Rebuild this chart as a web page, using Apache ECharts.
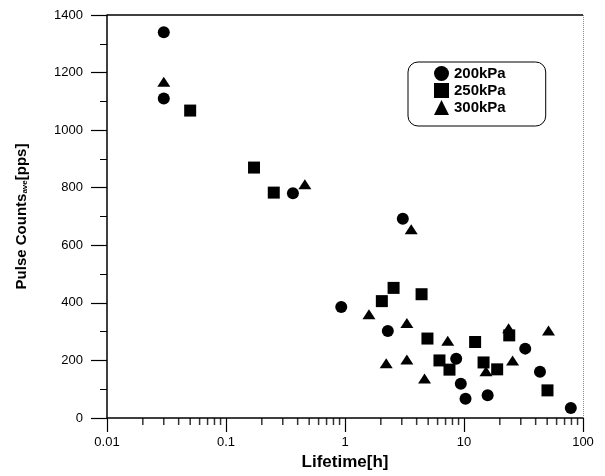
<!DOCTYPE html>
<html>
<head>
<meta charset="utf-8">
<script src="https://cdn.jsdelivr.net/npm/echarts@6/dist/echarts.min.js"></script>
<style>
html,body{margin:0;padding:0;background:#fff;}
#chart{width:605px;height:476px;}
</style>
</head>
<body>
<div id="chart"></div>
<script>
// Data (Lifetime [h], Pulse Counts_ave [pps])
var seriesNames = ['200kPa', '250kPa', '300kPa'];
var data200 = [[0.03,1340],[0.03,1110],[0.365,781],[3.06,692],[0.93,386],[2.29,302],[8.6,206],[9.4,119],[10.3,67],[15.8,79],[32.7,241],[43.5,161],[79,35]];
var data250 = [[0.05,1068],[0.172,870],[0.252,783],[2.04,406],[2.56,452],[4.4,430],[4.93,276],[6.22,200],[7.55,168],[12.4,264],[14.6,193],[19.0,169],[24.0,287],[50.3,96]];
var data300 = [[0.03,1168],[0.46,812],[3.6,656],[1.59,360],[3.31,330],[2.22,190],[3.31,203],[4.66,137],[7.3,268],[15.3,162],[23.7,312],[25.6,200],[51.3,304]];
var xMin = 0.01, xMax = 100;
var yMin = 0, yMax = 1400, yInterval = 200;
// log-axis minor tick values (2..9 in each decade)
var xMinorTicks = [0.02,0.03,0.04,0.05,0.06,0.07,0.08,0.09,0.2,0.3,0.4,0.5,0.6,0.7,0.8,0.9,2,3,4,5,6,7,8,9,20,30,40,50,60,70,80,90];

var FONT = '"Liberation Sans", Arial, sans-serif';
var chart = echarts.init(document.getElementById('chart'), null, {renderer: 'canvas'});
chart.setOption({
  animation: false,
  grid: {left: 107, top: 15, width: 476, height: 403},
  legend: {
    orient: 'vertical',
    left: 408, top: 62,
    padding: [4, 40, 11, 26],
    itemGap: 2,
    itemWidth: 15, itemHeight: 15,
    borderColor: '#000', borderWidth: 1, borderRadius: 10,
    textStyle: {fontFamily: FONT, fontSize: 15, fontWeight: 'bold', color: '#000'},
    data: seriesNames
  },
  xAxis: {
    type: 'log', logBase: 10, min: xMin, max: xMax,
    name: 'Lifetime[h]', nameLocation: 'middle', nameGap: 34,
    nameTextStyle: {fontFamily: FONT, fontSize: 17, fontWeight: 'bold', color: '#000'},
    axisLine: {lineStyle: {color: '#000', width: 1.5}},
    axisTick: {length: 14, lineStyle: {color: '#000', width: 1.2}},
    axisLabel: {fontFamily: FONT, fontSize: 13, color: '#000', margin: 18},
    splitLine: {show: false}
  },
  yAxis: {
    type: 'value', min: yMin, max: yMax, interval: yInterval,
    name: 'Pulse Counts{sub|ave}[pps]', nameLocation: 'middle', nameGap: 78,
    nameTextStyle: {fontFamily: FONT, fontSize: 15, fontWeight: 'bold', color: '#000',
      rich: {sub: {fontFamily: FONT, fontSize: 8, fontWeight: 'bold', color: '#000', verticalAlign: 'bottom', lineHeight: 8, padding: [8, 0, 0, 0]}}},
    axisLine: {show: true, lineStyle: {color: '#000', width: 1.5}},
    axisTick: {show: true, length: 16, lineStyle: {color: '#000', width: 1.2}},
    minorTick: {show: true, splitNumber: 2, length: 7, lineStyle: {color: '#000', width: 1}},
    axisLabel: {fontFamily: FONT, fontSize: 13, color: '#000', margin: 24, formatter: function (v) { return String(v); }},
    splitLine: {show: false}
  },
  series: [
    {
      name: 'xMinorTicks', type: 'scatter', clip: false,
      symbol: 'rect', symbolSize: [1.5, 7], symbolOffset: [0, 3.5],
      itemStyle: {color: '#000'},
      data: xMinorTicks.map(function (v) { return [v, yMin]; })
    },
    {name: seriesNames[0], type: 'scatter', symbol: 'circle', symbolSize: 12, data: data200, itemStyle: {color: '#000', opacity: 1},
      markLine: {
        silent: true, symbol: ['none', 'none'], label: {show: false}, animation: false,
        data: [
          {yAxis: yMax, lineStyle: {color: '#000', width: 1.5, type: 'solid'}},
          {xAxis: xMax, lineStyle: {color: '#888', width: 1, type: 'dotted'}}
        ]
      }},
    {name: seriesNames[1], type: 'scatter', symbol: 'rect', symbolSize: 12, data: data250, itemStyle: {color: '#000', opacity: 1}},
    {name: seriesNames[2], type: 'scatter', symbol: 'triangle', symbolSize: [13, 10], data: data300, itemStyle: {color: '#000', opacity: 1}}
  ]
});
</script>
</body>
</html>
